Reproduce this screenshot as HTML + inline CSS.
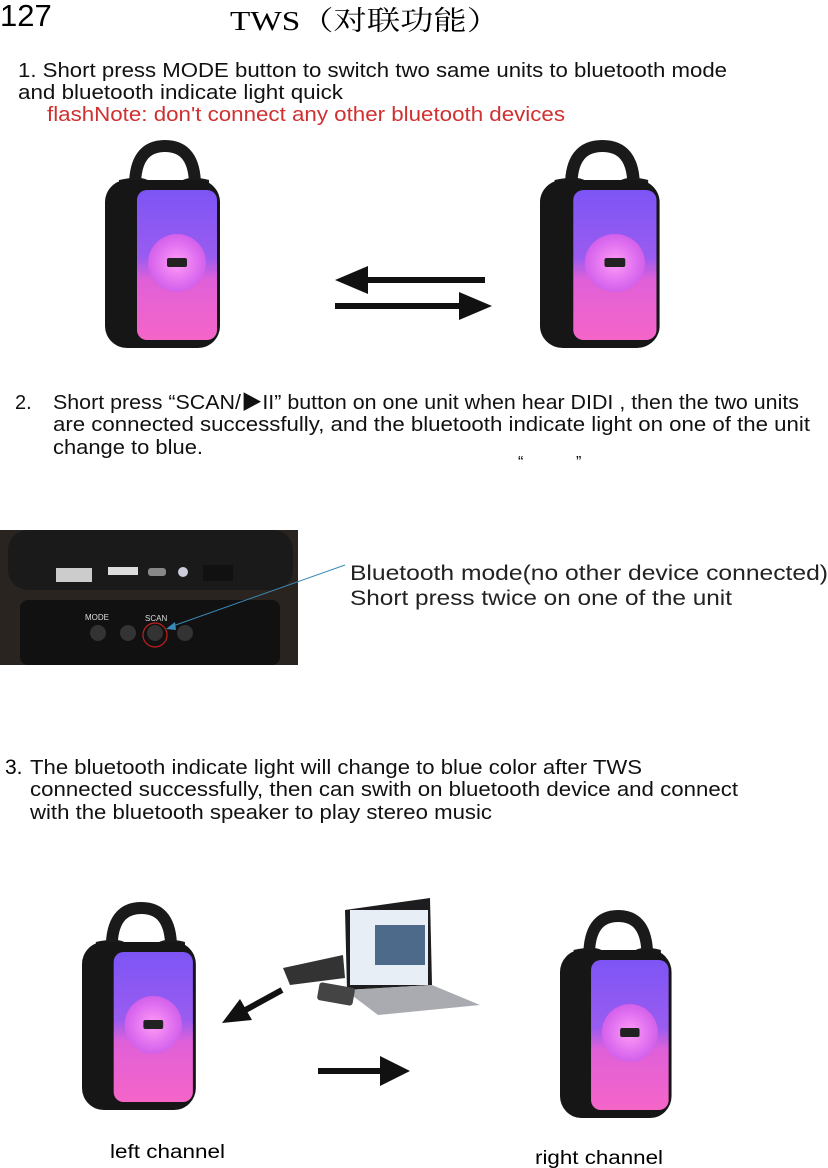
<!DOCTYPE html>
<html><head><meta charset="utf-8"><style>
html,body{margin:0;padding:0;background:#fff;width:828px;height:1168px;overflow:hidden}
svg{display:block}
text{font-family:"Liberation Sans","Noto Sans CJK SC",sans-serif}
</style></head><body>
<svg width="828" height="1168" viewBox="0 0 828 1168" xmlns="http://www.w3.org/2000/svg">
<defs>
<linearGradient id="pg" x1="0" y1="0" x2="0" y2="1">
<stop offset="0" stop-color="#7d55f5"/><stop offset="0.45" stop-color="#9a5cf0"/><stop offset="0.6" stop-color="#e060d8"/><stop offset="1" stop-color="#f565c8"/></linearGradient>
<radialGradient id="fg"><stop offset="0" stop-color="#ff9cf6"/><stop offset="0.7" stop-color="#e070f0"/><stop offset="1" stop-color="#d260ea"/></radialGradient>
<g id="spk">
<path d="M30 48 Q30 8 60 8 Q90 8 90 48" fill="none" stroke="#1a1a1a" stroke-width="12"/>
<path d="M14 42 Q40 36 48 46 Q60 38 72 46 Q82 36 104 42 L104 60 L14 60Z" fill="#1a1a1a"/>
<rect x="0" y="42" width="115" height="168" rx="22" fill="#161616"/>
<rect x="32" y="52" width="80" height="150" rx="10" fill="url(#pg)"/>
<circle cx="72" cy="125" r="29" fill="url(#fg)"/>
<rect x="62" y="120" width="20" height="9" rx="2" fill="#222"/>
</g>
</defs>

<text x="0" y="26" font-size="31">127</text>
<text x="230" y="30" font-size="27" style="font-family:'Liberation Serif','Noto Serif CJK SC',serif" textLength="270" lengthAdjust="spacingAndGlyphs">TWS（对联功能）</text>

<g font-size="20" fill="#111">
<text x="18" y="77" textLength="709" lengthAdjust="spacingAndGlyphs">1. Short press MODE button to switch two same units to bluetooth mode</text>
<text x="18" y="99" textLength="325" lengthAdjust="spacingAndGlyphs">and bluetooth indicate light quick</text>
<text x="47" y="121" fill="#d03030" textLength="518" lengthAdjust="spacingAndGlyphs">flashNote: don't connect any other bluetooth devices</text>
</g>

<use href="#spk" transform="translate(105,138)"/>
<use href="#spk" transform="translate(540,138) scale(1.04,1)"/>
<path d="M485 280 H360" stroke="#111" stroke-width="6"/>
<polygon points="335,280 368,266 368,294" fill="#111"/>
<path d="M335 306 H465" stroke="#111" stroke-width="6"/>
<polygon points="492,306 459,292 459,320" fill="#111"/>

<g font-size="20" fill="#111">
<text x="15" y="409">2.</text>
<text x="53" y="409" textLength="746" lengthAdjust="spacingAndGlyphs">Short press “SCAN/▶II” button on one unit when hear  DIDI  , then the two units</text>
<text x="53" y="431" textLength="757" lengthAdjust="spacingAndGlyphs">are connected successfully, and the bluetooth indicate light on one of the unit</text>
<text x="53" y="454" textLength="150" lengthAdjust="spacingAndGlyphs">change to blue.</text>
</g>
<text x="518" y="467" font-size="16">“</text>
<text x="576" y="467" font-size="16">”</text>

<rect x="0" y="530" width="298" height="135" fill="#2a2420"/>
<rect x="8" y="530" width="285" height="60" rx="20" fill="#1a1a1a"/>
<rect x="56" y="568" width="36" height="14" fill="#ccc"/><rect x="108" y="567" width="30" height="8" fill="#ddd"/>
<rect x="148" y="568" width="18" height="8" rx="3" fill="#888"/><circle cx="183" cy="572" r="5" fill="#ccd"/>
<rect x="203" y="565" width="30" height="16" fill="#111"/>
<rect x="20" y="600" width="260" height="65" rx="8" fill="#111"/>
<text x="85" y="620" font-size="8" fill="#ddd">MODE</text><text x="145" y="621" font-size="8" fill="#ddd">SCAN</text>
<circle cx="98" cy="633" r="8" fill="#333"/><circle cx="128" cy="633" r="8" fill="#333"/><circle cx="155" cy="633" r="8" fill="#333"/><circle cx="185" cy="633" r="8" fill="#333"/>
<circle cx="155" cy="635" r="12" fill="none" stroke="#c02020" stroke-width="1.2"/>
<path d="M345 565 L170 627" stroke="#3a8ab8" stroke-width="1"/>
<polygon points="166,629 175,622 176,630" fill="#3a8ab8"/>
<text x="350" y="580" font-size="21" fill="#222" textLength="478" lengthAdjust="spacingAndGlyphs">Bluetooth mode(no other device connected)</text>
<text x="350" y="605" font-size="21" fill="#222" textLength="382" lengthAdjust="spacingAndGlyphs">Short press twice on one of the unit</text>

<text x="5" y="774" font-size="21">3.</text>
<g font-size="20" fill="#111">
<text x="30" y="774" textLength="612" lengthAdjust="spacingAndGlyphs">The bluetooth indicate light will change to blue color after TWS</text>
<text x="30" y="796" textLength="708" lengthAdjust="spacingAndGlyphs">connected successfully, then can swith on bluetooth device and connect</text>
<text x="30" y="819" textLength="462" lengthAdjust="spacingAndGlyphs">with the bluetooth speaker to play stereo music</text>
</g>

<use href="#spk" transform="translate(82,900) scale(0.99,1)"/>
<use href="#spk" transform="translate(560,908) scale(0.97,1)"/>
<polygon points="345,910 430,898 432,985 347,990" fill="#1d1d1f"/>
<rect x="350" y="910" width="78" height="75" fill="#e8eef5"/>
<rect x="375" y="925" width="50" height="40" fill="#4d6a8a"/>
<polygon points="345,990 432,985 480,1005 378,1015" fill="#a9abb0"/>
<polygon points="283,968 343,955 345,978 290,985" fill="#333"/>
<rect x="318" y="985" width="36" height="18" rx="3" fill="#444" transform="rotate(10 336 994)"/>
<path d="M282 990 L240 1013" stroke="#111" stroke-width="6"/>
<polygon points="222,1023 240,999 252,1020" fill="#111"/>
<path d="M318 1071 H385" stroke="#111" stroke-width="6"/>
<polygon points="410,1071 380,1056 380,1086" fill="#111"/>

<text x="110" y="1158" font-size="19" textLength="115" lengthAdjust="spacingAndGlyphs">left channel</text>
<text x="535" y="1164" font-size="19" textLength="128" lengthAdjust="spacingAndGlyphs">right channel</text>
</svg>
</body></html>
